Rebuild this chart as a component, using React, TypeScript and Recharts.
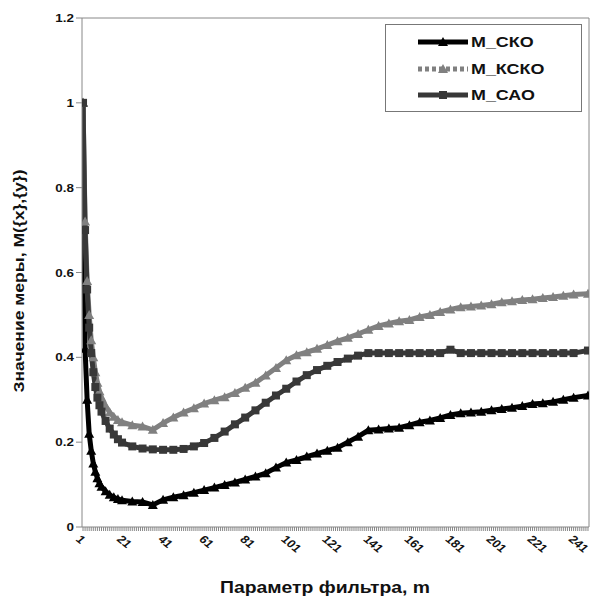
import React from "react";
import { LineChart, Line, XAxis, YAxis, ReferenceLine, Label } from "recharts";

// filter parameter m (sampled)
const M_VALUES = [
  1, 2, 3, 4, 5, 6, 7, 8, 9, 10,
  12, 14, 16, 18, 20,
  25, 30, 35, 40, 45, 50, 55, 60, 65, 70,
  75, 80, 85, 90, 95, 100, 105, 110, 115, 120,
  125, 130, 135, 140, 145, 150, 155, 160, 165, 170,
  175, 180, 185, 190, 195, 200, 205, 210, 215, 220,
  225, 230, 235, 240,
  247,
];

const M_SKO = [
  1.0, 0.42, 0.3, 0.22, 0.18, 0.15, 0.13, 0.115, 0.103, 0.095,
  0.084, 0.076, 0.07, 0.066, 0.063,
  0.06, 0.059, 0.052, 0.064, 0.07, 0.075, 0.081, 0.087, 0.093, 0.099,
  0.105, 0.112, 0.119, 0.127, 0.14, 0.152, 0.158, 0.166, 0.173, 0.18,
  0.187, 0.2, 0.213, 0.228, 0.23, 0.232, 0.234, 0.24, 0.247, 0.251,
  0.257, 0.264, 0.268, 0.27, 0.272, 0.275, 0.278, 0.281, 0.285, 0.29,
  0.292, 0.295, 0.3, 0.305,
  0.31,
];

const M_KSKO = [
  1.0, 0.72, 0.58, 0.5, 0.44, 0.4, 0.365, 0.34, 0.32, 0.305,
  0.285, 0.27, 0.26, 0.252, 0.247,
  0.24, 0.237, 0.229, 0.245, 0.258, 0.27, 0.28, 0.291, 0.299, 0.306,
  0.316, 0.328, 0.34, 0.357, 0.375, 0.393, 0.405, 0.412, 0.42, 0.429,
  0.438, 0.446, 0.455, 0.465, 0.474, 0.48, 0.485, 0.488, 0.495, 0.5,
  0.507, 0.513, 0.518, 0.52, 0.522, 0.525, 0.53, 0.532, 0.535, 0.537,
  0.54, 0.542, 0.545, 0.548,
  0.55,
];

const M_SAO = [
  1.0, 0.7, 0.56, 0.47, 0.41, 0.365, 0.33, 0.305, 0.287, 0.272,
  0.25, 0.232, 0.218, 0.207, 0.199,
  0.19, 0.185, 0.183, 0.182, 0.182, 0.184, 0.19, 0.198, 0.21, 0.225,
  0.242, 0.258, 0.275, 0.293, 0.31, 0.326, 0.343, 0.358, 0.37, 0.38,
  0.389, 0.397, 0.404, 0.41, 0.41, 0.41, 0.41, 0.41, 0.41, 0.41,
  0.41, 0.418, 0.41, 0.41, 0.41, 0.41, 0.41, 0.41, 0.41, 0.41,
  0.41, 0.41, 0.41, 0.41,
  0.416,
];

const X_LABELS = [1, 21, 41, 61, 81, 101, 121, 141, 161, 181, 201, 221, 241];
const Y_TICKS = [0, 0.2, 0.4, 0.6, 0.8, 1, 1.2];
const X_COUNT = 247;

const data = M_VALUES.map((m, i) => ({
  m,
  sko: M_SKO[i],
  ksko: M_KSKO[i],
  sao: M_SAO[i],
}));

// one small tick per category, labels only every 20
const minorTicks = Array.from({ length: X_COUNT }, (_, i) => i + 1);

const FONT = "'Liberation Sans', Arial, sans-serif";
const AXIS = "#888";

const C_SKO = "#000000";
const C_KSKO = "#808080";
const C_SAO = "#383838";

const Tri = ({ cx, cy, fill }: any) => {
  if (cx == null || cy == null) return <g />;
  return <polygon points={`${cx},${cy - 5} ${cx - 5},${cy + 4} ${cx + 5},${cy + 4}`} fill={fill} />;
};

const Sq = ({ cx, cy, fill }: any) => {
  if (cx == null || cy == null) return <g />;
  return <rect x={cx - 4} y={cy - 4} width={8} height={8} fill={fill} />;
};

const XTick = ({ x, y, payload }: any) => {
  if (!X_LABELS.includes(payload.value)) return <g />;
  return (
    <text
      transform={`translate(${x - 8},${y + 7}) scale(1.2,1) rotate(45)`}
      fontSize={11}
      fontWeight="bold"
      fontFamily={FONT}
      fill="#111"
      textAnchor="start"
    >
      {payload.value}
    </text>
  );
};

const YTick = ({ x, y, payload }: any) => (
  <text
    transform={`translate(${x},${y + 4}) scale(1.22,1)`}
    fontSize={11}
    fontWeight="bold"
    fontFamily={FONT}
    fill="#111"
    textAnchor="end"
  >
    {payload.value}
  </text>
);

const LegendBox = () => (
  <div
    style={{
      position: "absolute",
      left: 385,
      top: 24,
      width: 197,
      height: 88,
      border: "1px solid #777",
      background: "#fff",
      boxSizing: "border-box",
    }}
  >
    <svg width={197} height={88}>
      {/* M_СКО */}
      <line x1={32} x2={82} y1={17} y2={17} stroke={C_SKO} strokeWidth={5} />
      <Tri cx={57} cy={17} fill={C_SKO} />
      {/* M_КСКО */}
      <line x1={32} x2={82} y1={44} y2={44} stroke={C_KSKO} strokeWidth={5} strokeDasharray="4 3" />
      <Tri cx={57} cy={44} fill={C_KSKO} />
      {/* M_САО */}
      <line x1={32} x2={82} y1={70} y2={70} stroke={C_SAO} strokeWidth={5} />
      <Sq cx={57} cy={70} fill={C_SAO} />
      {["M_СКО", "M_КСКО", "M_САО"].map((t, i) => (
        <text
          key={t}
          transform={`translate(85,${[22, 49, 75][i]}) scale(1.28,1)`}
          fontSize={14}
          fontWeight="bold"
          fontFamily={FONT}
          fill="#111"
        >
          {t}
        </text>
      ))}
    </svg>
  </div>
);

export default function App() {
  return (
    <div style={{ position: "absolute", left: 0, top: 0, width: 591, height: 598, background: "#fff" }}>
      <LineChart width={591} height={598} data={data} margin={{ top: 18, right: 2, bottom: 0, left: 0 }}>
        <XAxis
          dataKey="m"
          type="number"
          domain={[0.5, X_COUNT + 0.5]}
          ticks={minorTicks}
          interval={0}
          tickSize={4}
          height={71}
          axisLine={{ stroke: AXIS }}
          tickLine={{ stroke: AXIS }}
          tick={<XTick />}
          allowDataOverflow
        >
          <Label
            content={() => (
              <text
                x={325}
                y={593}
                textAnchor="middle"
                fontSize={16}
                fontWeight="bold"
                fontFamily={FONT}
                fill="#111"
                textLength={210}
                lengthAdjust="spacingAndGlyphs"
              >
                Параметр фильтра, m
              </text>
            )}
          />
        </XAxis>
        <YAxis
          type="number"
          domain={[0, 1.2]}
          ticks={Y_TICKS}
          interval={0}
          width={82}
          tickSize={6}
          axisLine={{ stroke: AXIS }}
          tickLine={{ stroke: AXIS }}
          tick={<YTick />}
        >
          <Label
            content={() => (
              <text
                x={0}
                y={0}
                transform="translate(24,281) rotate(-90)"
                textAnchor="middle"
                fontSize={15}
                fontWeight="bold"
                fontFamily={FONT}
                fill="#111"
                textLength={223}
                lengthAdjust="spacingAndGlyphs"
              >
                Значение меры, M({"{x}"},{"{y}"})
              </text>
            )}
          />
        </YAxis>
        <ReferenceLine y={1.2} stroke={AXIS} />
        <ReferenceLine x={X_COUNT + 0.5} stroke={AXIS} />
        <Line
          dataKey="sko"
          stroke={C_SKO}
          strokeWidth={5}
          dot={(p: any) => <Tri key={`a${p.index}`} cx={p.cx} cy={p.cy} fill={C_SKO} />}
          isAnimationActive={false}
        />
        <Line
          dataKey="ksko"
          stroke={C_KSKO}
          strokeWidth={5}
          dot={(p: any) => <Tri key={`b${p.index}`} cx={p.cx} cy={p.cy} fill={C_KSKO} />}
          isAnimationActive={false}
        />
        <Line
          dataKey="sao"
          stroke={C_SAO}
          strokeWidth={5}
          dot={(p: any) => <Sq key={`c${p.index}`} cx={p.cx} cy={p.cy} fill={C_SAO} />}
          isAnimationActive={false}
        />
      </LineChart>
      <LegendBox />
    </div>
  );
}
